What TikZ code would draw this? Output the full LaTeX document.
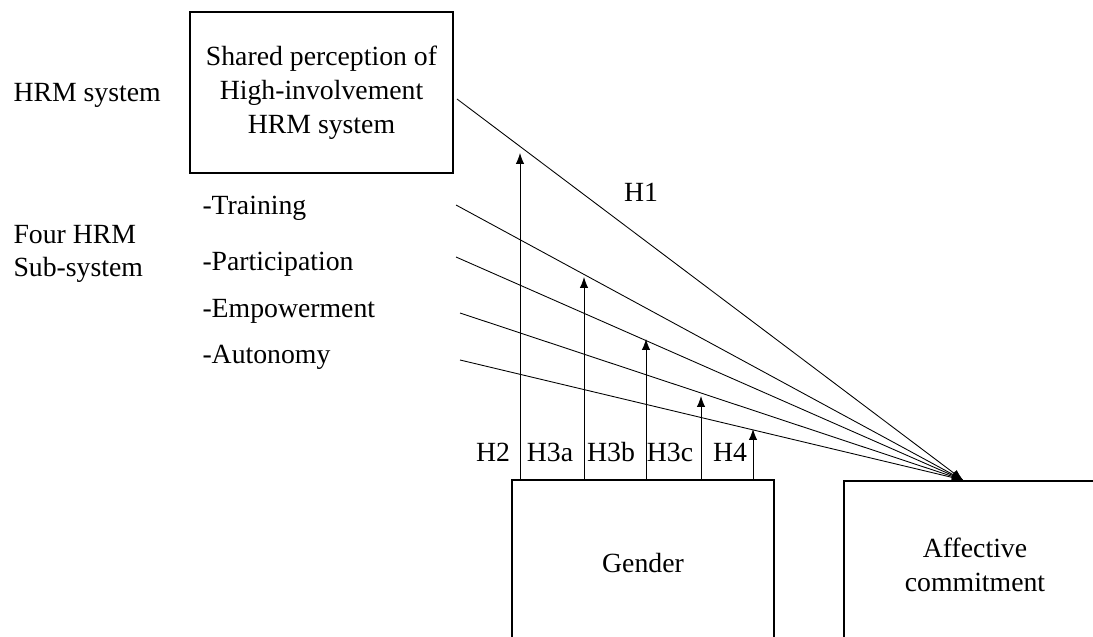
\documentclass[tikz,border=0pt]{standalone}
\usepackage{fontspec}
\setmainfont{Liberation Serif}
\usepackage{tikz}
\usetikzlibrary{positioning,arrows.meta}

\begin{document}
\begin{tikzpicture}[
  x=0.4pt, y=-0.4pt,
  font=\fontsize{11.1}{13.6}\selectfont,
  squarednode/.style={rectangle, draw=black, line width=0.8pt, align=center, inner sep=0pt},
  textnode/.style={inner sep=0pt, anchor=base west},
  hypnode/.style={inner sep=0pt},
  pathline/.style={line width=0.35pt, -{Latex[length=4.4pt,width=3.4pt]}}
]
\useasboundingbox (0,0) rectangle (1093,637);
\clip (0,0) rectangle (1093,637);

%Nodes
\node[squarednode, minimum width=105.2pt, minimum height=64.4pt] (hrm) at (321.5,92.5) {Shared perception of\\High-involvement\\HRM system};
\node[squarednode, minimum width=104.8pt, minimum height=66.4pt] (gender) at (643,563) {Gender};
\node[squarednode, minimum width=104.8pt, minimum height=67.2pt] (affect) at (975,565) {Affective\\commitment};

\node[textnode] (hrmlab) at (13,102) {HRM system};
\node[textnode] (four)   at (13,244) {Four HRM};
\node[textnode] (subsys) at (13,277) {Sub-system};

\node[textnode] (training) at (202,215) {-Training};
\node[textnode] (partic)   at (202,271) {-Participation};
\node[textnode] (empow)    at (202,318) {-Empowerment};
\node[textnode] (auton)    at (202,364) {-Autonomy};

\node[hypnode] (h1)  at (641,192) {H1};
\node[hypnode] (h2)  at (493,452) {H2};
\node[hypnode] (h3a) at (550,452) {H3a};
\node[hypnode] (h3b) at (611,452) {H3b};
\node[hypnode] (h3c) at (670,452) {H3c};
\node[hypnode] (h4)  at (730,452) {H4};

%Coordinates
\coordinate (s1) at (457,99);
\coordinate (s2) at (456,205);
\coordinate (s3) at (456,257);
\coordinate (s4) at (460,313);
\coordinate (s5) at (460,360);
\coordinate (tip) at (963,480);

\coordinate (m2)  at (520,153);
\coordinate (m3a) at (584,277);
\coordinate (m3b) at (646,339);
\coordinate (m3c) at (701,396);
\coordinate (m4)  at (753,429);

%Arrows
\foreach \s in {s1,s2,s3,s4,s5}
  \draw[pathline] (\s) -- (tip);

\foreach \m in {m2,m3a,m3b,m3c,m4}
  \draw[pathline] (\m |- gender.north) -- (\m);
\end{tikzpicture}
\end{document}
